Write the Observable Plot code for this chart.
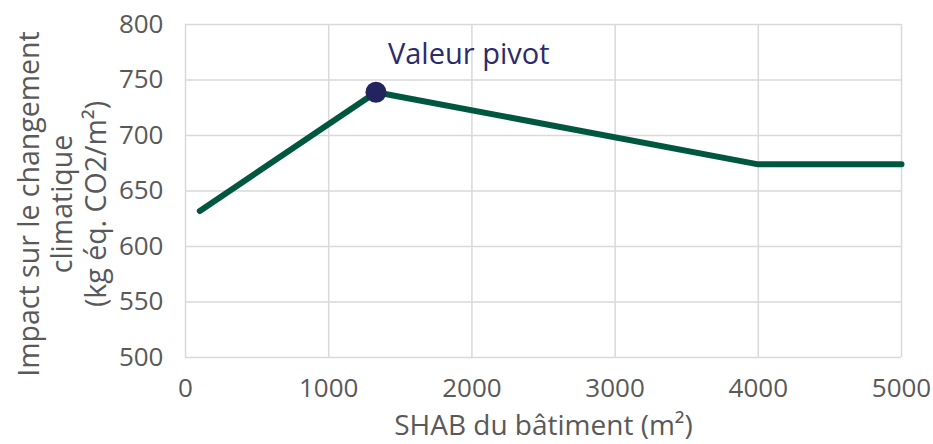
<!DOCTYPE html>
<html><head><meta charset="utf-8">
<script src="https://cdn.jsdelivr.net/npm/d3@7"></script>
<script src="https://cdn.jsdelivr.net/npm/@observablehq/plot@0.6"></script>
<style>body{margin:0;background:#fff}</style>
</head><body><div id="chart"></div>
<script>
const surfaces = [100, 1330, 4000, 5000];
const impacts = [632, 739, 674, 674];
const pivotSurface = [1330];
const pivotImpact = [739];
const pivotLabel = ["Valeur pivot"];
const xTicks = [0, 1000, 2000, 3000, 4000, 5000];
const yTicks = [500, 550, 600, 650, 700, 750, 800];
const xTitle = "SHAB du bâtiment (m²)";
const yTitle = ["Impact sur le changement", "climatique", "(kg éq. CO2/m²)"];

const data = surfaces.map((s, i) => ({s, v: impacts[i]}));
const pivot = pivotSurface.map((s, i) => ({s, v: pivotImpact[i], t: pivotLabel[i]}));
const gray = "#595959";
const font = "Open Sans";

const chart = Plot.plot({
  width: 933, height: 444,
  marginLeft: 185, marginRight: 32, marginTop: 24, marginBottom: 87,
  style: {fontFamily: font, fontSize: "25px", color: gray, background: "#fff", overflow: "visible"},
  x: {domain: [0, 5000]},
  y: {domain: [500, 800]},
  marks: [
    Plot.gridX(xTicks, {stroke: "#d9d9d9", strokeOpacity: 1, strokeWidth: 1.5}),
    Plot.gridY(yTicks, {stroke: "#d9d9d9", strokeOpacity: 1, strokeWidth: 1.5}),
    Plot.axisX(xTicks, {tickSize: 0, tickPadding: 21, label: null, tickFormat: d => String(d), fontSize: 26, fill: gray}),
    Plot.axisY(yTicks, {tickSize: 0, tickPadding: 22, label: null, tickFormat: d => String(d), fontSize: 26, fill: gray}),
    Plot.line(data, {x: "s", y: "v", stroke: "#00573f", strokeWidth: 6, strokeLinecap: "round"}),
    Plot.dot(pivot, {x: "s", y: "v", r: 10.5, fill: "#23235f", stroke: "none"}),
    Plot.text(pivot, {x: "s", y: "v", text: "t", dx: 12, dy: -37, textAnchor: "start", lineAnchor: "middle", fill: "#2b2b6b", fontSize: 29}),
    Plot.text([xTitle], {frameAnchor: "bottom", textAnchor: "middle", lineAnchor: "middle", dy: 69, fill: gray, fontSize: 28}),
    Plot.text([yTitle.join("\n")], {frameAnchor: "left", textAnchor: "middle", lineAnchor: "middle", rotate: -90, dx: -124, dy: 13, lineHeight: 1.17, fill: gray, fontSize: 28.5})
  ]
});
document.getElementById("chart").appendChild(chart);
</script>
</body></html>
